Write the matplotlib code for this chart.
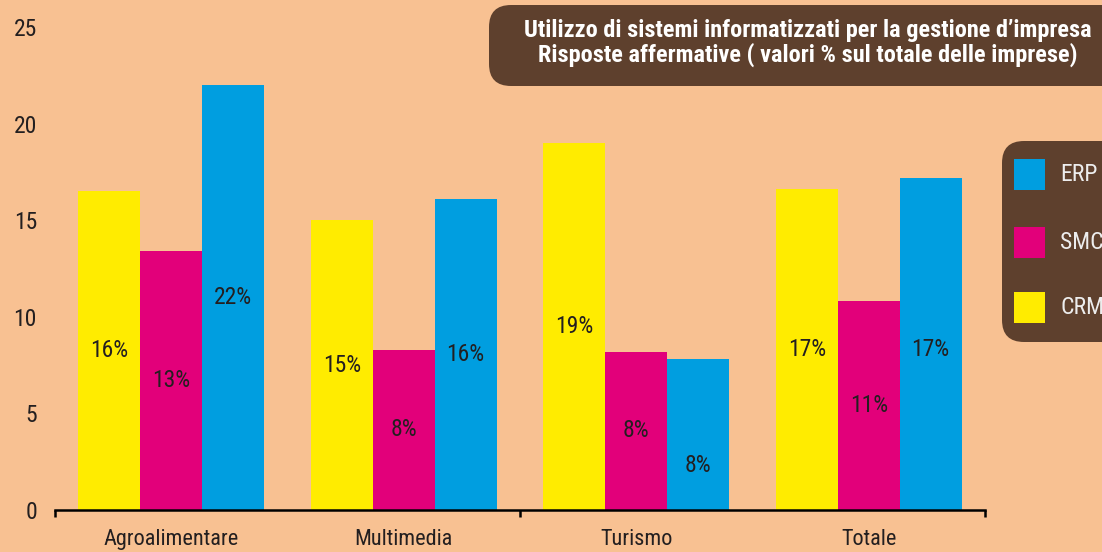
import matplotlib
matplotlib.use("Agg")
import matplotlib.pyplot as plt
from matplotlib import font_manager
from matplotlib.patches import FancyBboxPatch, Rectangle
from matplotlib.transforms import IdentityTransform
import numpy as np

categories = ['Agroalimentare', 'Multimedia', 'Turismo', 'Totale']
crm = [16.5, 15.0, 19.0, 16.6]
smc = [13.4, 8.3, 8.2, 10.8]
erp = [22.0, 16.1, 7.8, 17.2]
crm_lbl = ['16%', '15%', '19%', '17%']
smc_lbl = ['13%', '8%', '8%', '11%']
erp_lbl = ['22%', '16%', '8%', '17%']
yticks = [0, 5, 10, 15, 20, 25]
title_lines = ["Utilizzo di sistemi informatizzati per la gestione d\u2019impresa",
               "Risposte affermative ( valori % sul totale delle imprese)"]

# fonts
avail = {f.name for f in font_manager.fontManager.ttflist}
fam = 'DejaVu Sans'
for cand in ['Roboto Condensed', 'Fira Sans Condensed', 'Archivo Narrow', 'PT Sans Narrow']:
    if cand in avail:
        fam = cand
        break
plt.rcParams['font.family'] = [fam, 'DejaVu Sans']

BG = '#F8C192'
YEL = '#FFEC00'
MAG = '#E2007A'
BLU = '#009EE0'
BROWN = '#5E402D'
TXT = '#231F20'

fig = plt.figure(figsize=(11.02, 5.52), dpi=100)
fig.patch.set_facecolor(BG)
ax = fig.add_axes([55/1102, 42/552, 930/1102, 483/552])
ax.set_facecolor(BG)

x = np.arange(len(categories))
w = 0.266
series = [(crm, crm_lbl, YEL, -w), (smc, smc_lbl, MAG, 0.0), (erp, erp_lbl, BLU, w)]
for vals, lbls, col, off in series:
    ax.bar(x + off, vals, width=w, color=col, linewidth=0)
    for i, (v, l) in enumerate(zip(vals, lbls)):
        ypos = v / 2
        if col == BLU and i == 2:
            ypos = v / 2 - 1.6
        if col == BLU and i == 3:
            ypos = v / 2 - 0.3
        ax.text(x[i] + off, ypos, l, ha='center', va='center', fontsize=17, color=TXT)

ax.set_xlim(-0.5, 3.5)
ax.set_ylim(0, 25)
for s in ['top', 'right', 'left']:
    ax.spines[s].set_visible(False)
ax.spines['bottom'].set_linewidth(1.8)
ax.spines['bottom'].set_color('black')

ax.set_yticks(yticks)
ax.set_yticklabels([str(t) for t in yticks], fontsize=17, color=TXT)
ax.tick_params(axis='y', length=0, pad=13)

ax.set_xticks([-0.5, 1.5, 3.5])
ax.set_xticklabels([])
ax.set_xticks(x, minor=True)
ax.set_xticklabels(categories, minor=True, fontsize=16, color=TXT)
ax.tick_params(axis='x', which='major', direction='out', length=5, width=1.8, color='black')
ax.tick_params(axis='x', which='minor', length=0, pad=14)

H = 552
# title box (pixel coords, y from bottom)
tb = FancyBboxPatch((489, H - 86), 700, 81, boxstyle="round,pad=0,rounding_size=22",
                    facecolor=BROWN, edgecolor='none', transform=IdentityTransform())
fig.patches.append(tb)
fig.text(808/1102, 1 - 30/552, title_lines[0], ha='center', va='center',
         fontsize=17.5, fontweight='bold', color='white')
fig.text(808/1102, 1 - 55/552, title_lines[1], ha='center', va='center',
         fontsize=17.5, fontweight='bold', color='white')

# legend box
lb = FancyBboxPatch((1002, H - 342), 200, 201, boxstyle="round,pad=0,rounding_size=22",
                    facecolor=BROWN, edgecolor='none', transform=IdentityTransform())
fig.patches.append(lb)
leg = [('ERP', BLU, 159), ('SMC', MAG, 227), ('CRM', YEL, 292)]
for name, col, ytop in leg:
    r = Rectangle((1014, H - ytop - 31), 31, 31, facecolor=col, edgecolor='none',
                  transform=IdentityTransform())
    fig.patches.append(r)
    fig.text(1060/1102, 1 - (ytop + 15.5)/552, name, ha='left', va='center',
             fontsize=17, color='#EDEDED')

fig.savefig('out.png', dpi=100, facecolor=BG)
